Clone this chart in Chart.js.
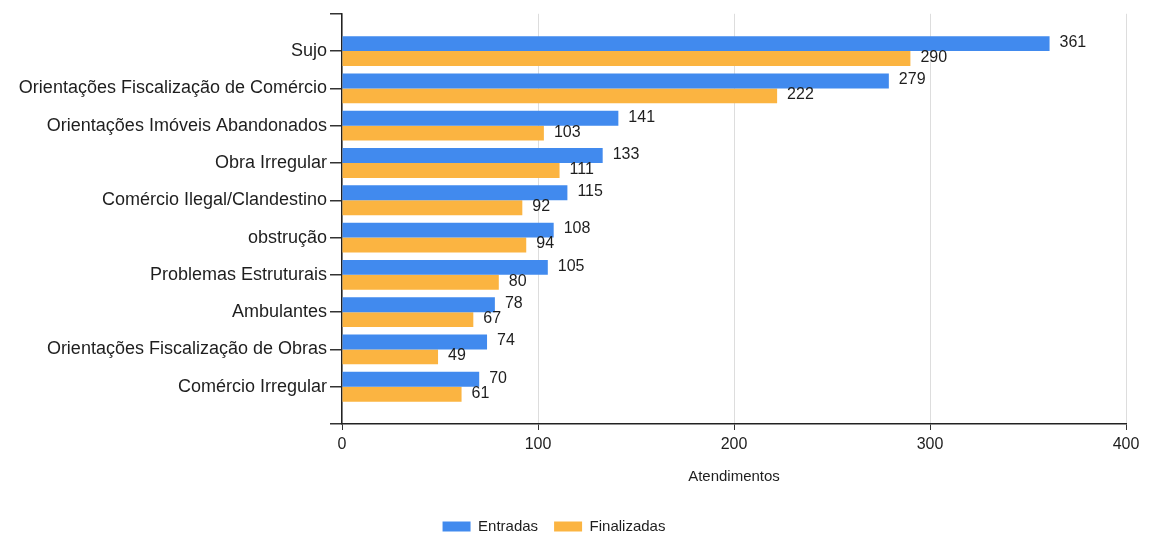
<!DOCTYPE html>
<html>
<head>
<meta charset="utf-8">
<script src="https://cdn.jsdelivr.net/npm/chart.js@4/dist/chart.umd.min.js"></script>
<style>
  html, body { margin: 0; padding: 0; background: #ffffff; }
  #wrap { width: 1149px; height: 535px; position: relative; }
</style>
</head>
<body>
<div id="wrap"><canvas id="c" width="1149" height="535"></canvas></div>
<script>
const categories = [
  "Sujo",
  "Orientações Fiscalização de Comércio",
  "Orientações Imóveis Abandonados",
  "Obra Irregular",
  "Comércio Ilegal/Clandestino",
  "obstrução",
  "Problemas Estruturais",
  "Ambulantes",
  "Orientações Fiscalização de Obras",
  "Comércio Irregular"
];
const entradas    = [361, 279, 141, 133, 115, 108, 105, 78, 74, 70];
const finalizadas = [290, 222, 103, 111,  92,  94,  80, 67, 49, 61];
const xTicks = [0, 100, 200, 300, 400];
const seriesNames = ["Entradas", "Finalizadas"];
const axisTitle = "Atendimentos";

const FONT = "'Liberation Sans', Arial, sans-serif";
const TEXT = "#1e1e1e";

// one empty slot above and below the categories (axis extends one band past each end)
const labels = ["", ...categories, ""];
const pad = arr => [null, ...arr, null];

const valueLabels = {
  id: "valueLabels",
  afterDatasetsDraw(chart) {
    const ctx = chart.ctx;
    ctx.save();
    ctx.font = "16px " + FONT;
    ctx.fillStyle = TEXT;
    ctx.textAlign = "left";
    ctx.textBaseline = "middle";
    chart.data.datasets.forEach((ds, di) => {
      const meta = chart.getDatasetMeta(di);
      meta.data.forEach((el, i) => {
        const v = ds.data[i];
        if (v === null || v === undefined) return;
        ctx.fillText(String(v), el.x + 10, el.y - 1);
      });
    });
    ctx.restore();
  }
};

const legendShift = {
  id: "legendShift",
  afterLayout(chart) {
    const lg = chart.legend;
    if (lg) { lg.left -= 12; lg.right -= 12; lg.top += 1; lg.bottom += 1; }
  }
};

new Chart(document.getElementById("c"), {
  type: "bar",
  data: {
    labels: labels,
    datasets: [
      { label: seriesNames[0], data: pad(entradas), backgroundColor: "#418aee", borderWidth: 0,
        categoryPercentage: 0.8, barPercentage: 1.0 },
      { label: seriesNames[1], data: pad(finalizadas), backgroundColor: "#fbb441", borderWidth: 0,
        categoryPercentage: 0.8, barPercentage: 1.0 }
    ]
  },
  plugins: [valueLabels, legendShift],
  options: {
    indexAxis: "y",
    responsive: false,
    animation: false,
    devicePixelRatio: 1,
    layout: { padding: { top: 9, right: 23, left: 6, bottom: -8 } },
    scales: {
      y: {
        type: "category",
        offset: false,
        grid: { display: true, offset: false, drawOnChartArea: false, drawTicks: true, tickLength: 12, color: "#333", lineWidth: 1.5 },
        border: { display: true, color: "#222", width: 1.5 },
        ticks: { color: TEXT, font: { family: FONT, size: 18 }, padding: 3, autoSkip: false },
        afterFit(scale) { scale.width = 336; }
      },
      x: {
        type: "linear",
        min: 0, max: 400,
        afterBuildTicks(scale) { scale.ticks = xTicks.map(v => ({ value: v })); },
        grid: { color: "#dddddd", lineWidth: 1, tickLength: 6, tickColor: "#333", drawTicks: true },
        border: { display: true, color: "#222", width: 1.5 },
        ticks: { color: TEXT, font: { family: FONT, size: 16 }, padding: 5 },
        title: { display: true, text: axisTitle, color: TEXT, font: { family: FONT, size: 15 }, padding: { top: 0, bottom: 16 } },
        afterFit(scale) { scale.height = 78; }
      }
    },
    plugins: {
      legend: {
        position: "bottom",
        labels: {
          boxWidth: 28, boxHeight: 10, color: TEXT,
          font: { family: FONT, size: 15 }, padding: 16
        }
      },
      tooltip: { enabled: false }
    }
  }
});
</script>
</body>
</html>
